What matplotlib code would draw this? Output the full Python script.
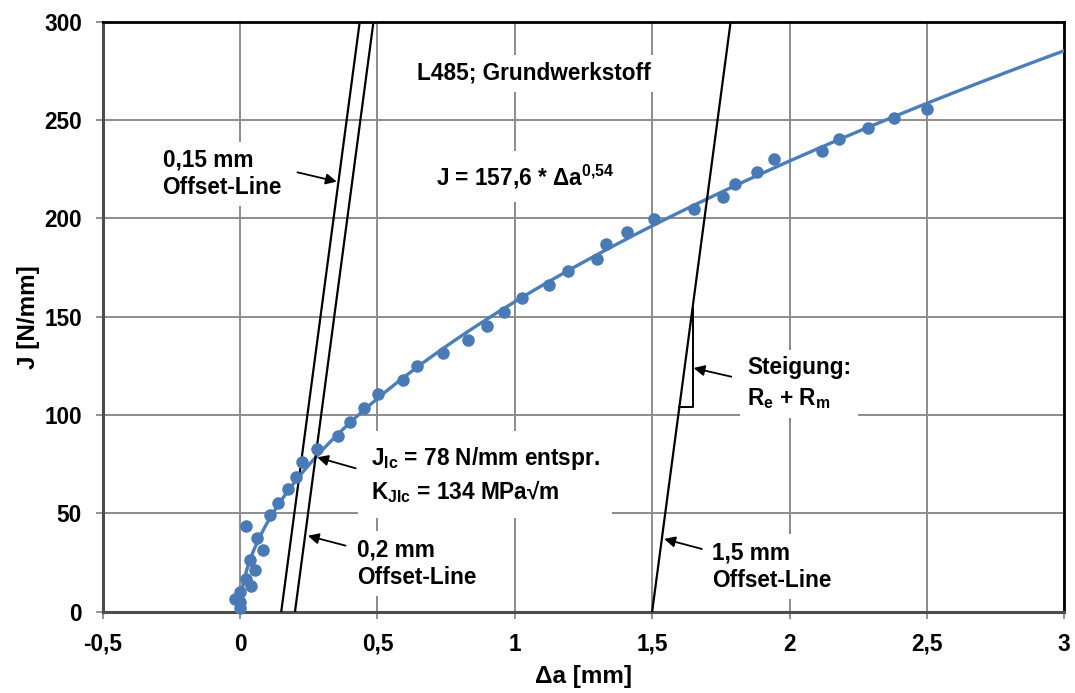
import numpy as np
import matplotlib
matplotlib.use("Agg")
import matplotlib.pyplot as plt

plt.rcParams['font.family'] = ['Liberation Sans', 'DejaVu Sans']
plt.rcParams['font.weight'] = 'bold'
plt.rcParams['mathtext.fontset'] = 'custom'
plt.rcParams['mathtext.rm'] = 'Liberation Sans:bold'
plt.rcParams['mathtext.bf'] = 'Liberation Sans:bold'
plt.rcParams['mathtext.default'] = 'bf'

# Measured crack extension (mm) and J-integral (N/mm)
delta_a = [0.00, -0.02, 0.00, 0.00, 0.04, 0.02, 0.055, 0.035, 0.085, 0.06, 0.023,
           0.11, 0.14, 0.175, 0.205, 0.225, 0.28, 0.357, 0.40, 0.453, 0.503, 0.592,
           0.643, 0.74, 0.83, 0.90, 0.96, 1.028, 1.124, 1.194, 1.30, 1.332, 1.407,
           1.507, 1.653, 1.757, 1.80, 1.882, 1.943, 2.12, 2.179, 2.284, 2.379, 2.50]
J_values = [1.9, 6.6, 4.7, 10.0, 13.2, 16.7, 21.3, 26.4, 31.4, 37.3, 43.7,
            49.2, 55.4, 62.2, 68.6, 76.2, 82.5, 89.4, 96.6, 103.7, 110.8, 117.6,
            125.0, 131.6, 138.2, 145.5, 152.6, 159.5, 166.2, 173.0, 179.1, 186.9, 193.3,
            199.5, 204.9, 210.7, 217.4, 223.7, 230.1, 234.0, 240.6, 245.7, 251.0, 255.8]

# Power-law fit J = C * da^n
fit_C = 157.6
fit_n = 0.54

# Offset (blunting) lines: J = slope * (da - offset)
offsets = [0.15, 0.2, 1.5]
offset_slope = 1050.0   # Re + Rm in N/mm^2

x_ticks = [-0.5, 0, 0.5, 1, 1.5, 2, 2.5, 3]
x_ticklabels = ['-0,5', '0', '0,5', '1', '1,5', '2', '2,5', '3']
y_ticks = [0, 50, 100, 150, 200, 250, 300]

blue = '#4A7EBB'
marker_blue = '#4A7AB5'

fig = plt.figure(figsize=(10.75, 6.93), dpi=100)
ax = fig.add_axes([0.0955, 0.1173, 0.8945, 0.8514])
ax.set_xlim(-0.5, 3)
ax.set_ylim(0, 300)

ax.grid(True, color='#8c8c8c', lw=1.4, zorder=0)
ax.set_axisbelow(True)

# Fit curve
xf = np.concatenate([[0.0], np.geomspace(1e-5, 3, 600)])
ax.plot(xf, fit_C * xf ** fit_n, color=blue, lw=2.4, zorder=3)

# Measured points
ax.plot(delta_a, J_values, 'o', color=marker_blue, ms=8, zorder=4, clip_on=False)

# Offset lines
Jl = np.array([0.0, 320.0])
for off in offsets:
    ax.plot(off + Jl / offset_slope, Jl, color='black', lw=1.6, zorder=3)

# Slope triangle on the 1.5 mm line
tri_x0, tri_x1 = 1.5 + 104 / offset_slope, 1.647
tri_j0 = (tri_x0 - 1.5) * offset_slope
tri_j1 = (tri_x1 - 1.5) * offset_slope
ax.plot([tri_x0, tri_x1, tri_x1], [tri_j0, tri_j0, tri_j1], color='black', lw=1.4, zorder=3)

box = dict(facecolor='white', edgecolor='none', pad=5)
fs = 16.3

ax.text(1.068, 273.7, 'L485; Grundwerkstoff', ha='center', va='center', fontsize=fs, bbox=box, zorder=5)
ax.text(0.712, 221.2, r'J = 157,6 * Δa$^{0{,}54}$', ha='left', va='center', fontsize=fs,
        bbox=dict(facecolor='white', edgecolor='none', pad=8), zorder=5)
ax.text(-0.282, 222.5, '0,15 mm\nOffset-Line', ha='left', va='center', fontsize=fs,
        linespacing=1.25, bbox=box, zorder=5)
ax.text(0.475, 69.5, 'J$_{Ic}$ = 78 N/mm entspr.\nK$_{JIc}$ = 134 MPa√m', ha='left', va='center',
        fontsize=fs, linespacing=1.3, bbox=dict(facecolor='white', edgecolor='none', pad=9), zorder=5)
ax.text(0.427, 24.6, '0,2 mm\nOffset-Line', ha='left', va='center', fontsize=fs,
        linespacing=1.25, bbox=box, zorder=5)
ax.text(1.718, 23.0, '1,5 mm\nOffset-Line', ha='left', va='center', fontsize=fs,
        linespacing=1.25, bbox=box, zorder=5)
ax.text(1.845, 116.0, 'Steigung:\nR$_e$ + R$_m$', ha='left', va='center', fontsize=fs,
        linespacing=1.4, bbox=box, zorder=5)

arrow = dict(arrowstyle='-|>', color='black', lw=1.3, mutation_scale=16, shrinkA=0, shrinkB=0)
arrows = [
    ((0.352, 218.7), (0.209, 223.4)),
    ((0.281, 78.5), (0.421, 72.9)),
    ((0.247, 38.6), (0.384, 33.6)),
    ((1.544, 37.0), (1.681, 31.9)),
    ((1.651, 123.9), (1.788, 119.5)),
]
for head, tail in arrows:
    ax.annotate('', xy=head, xytext=tail, arrowprops=arrow, zorder=6)

ax.set_xticks(x_ticks)
ax.set_xticklabels(x_ticklabels)
ax.set_yticks(y_ticks)
ax.tick_params(axis='both', labelsize=fs, length=5, width=1.2, color='#808080', pad=10)

for side in ['top', 'right']:
    ax.spines[side].set_color('black')
    ax.spines[side].set_linewidth(2.0)
for side in ['left', 'bottom']:
    ax.spines[side].set_color('#4d4d4d')
    ax.spines[side].set_linewidth(2.2)

ax.set_xlabel('Δa [mm]', fontsize=17.5, fontweight='bold', labelpad=7)
ax.set_ylabel('J [N/mm]', fontsize=17.5, fontweight='bold', labelpad=3)

fig.savefig('out.png', dpi=100)
